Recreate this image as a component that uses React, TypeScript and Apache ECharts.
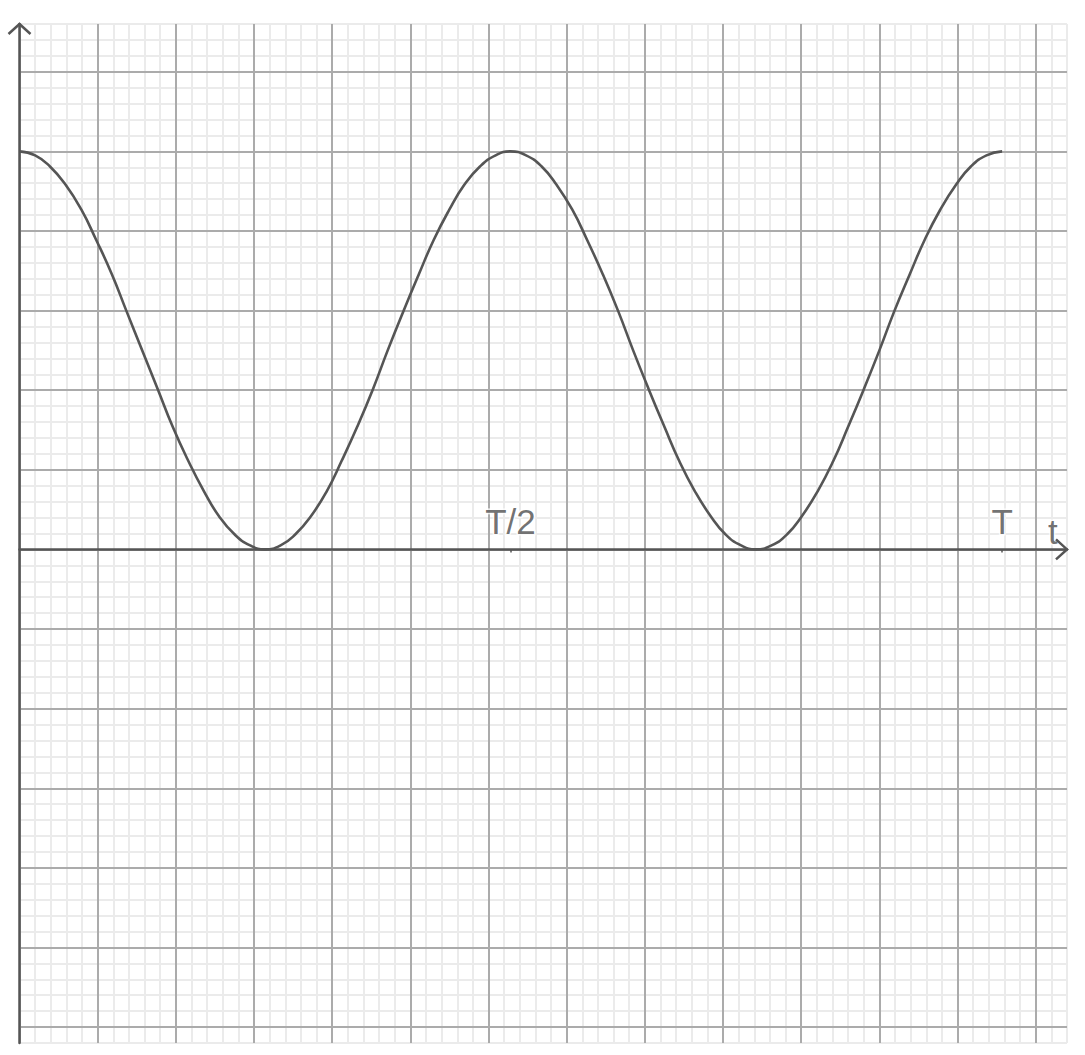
import React, { useRef, useEffect } from 'react';
import * as echarts from 'echarts';

// curve samples (t and y in major grid units)
const tValues = [
  0, 0.2, 0.39, 0.59, 0.79, 0.98, 1.18, 1.37, 1.57, 1.77, 1.96, 2.16, 2.36, 2.55, 2.75, 2.95, 3.14,
  3.34, 3.53, 3.73, 3.93, 4.12, 4.32, 4.52, 4.71, 4.91, 5.11, 5.3, 5.5, 5.69, 5.89, 6.09, 6.28,
  6.48, 6.68, 6.87, 7.07, 7.26, 7.46, 7.66, 7.85, 8.05, 8.25, 8.44, 8.64, 8.84, 9.03, 9.23, 9.42,
  9.62, 9.82, 10.01, 10.21, 10.41, 10.6, 10.8, 11.0, 11.19, 11.39, 11.58, 11.78, 11.98, 12.17, 12.37, 12.57,
];
const yValues = [
  5, 4.95, 4.81, 4.58, 4.27, 3.89, 3.46, 2.99, 2.5, 2.01, 1.54, 1.11, 0.73, 0.42, 0.19, 0.05, 0,
  0.05, 0.19, 0.42, 0.73, 1.11, 1.54, 2.01, 2.5, 2.99, 3.46, 3.89, 4.27, 4.58, 4.81, 4.95, 5,
  4.95, 4.81, 4.58, 4.27, 3.89, 3.46, 2.99, 2.5, 2.01, 1.54, 1.11, 0.73, 0.42, 0.19, 0.05, 0,
  0.05, 0.19, 0.42, 0.73, 1.11, 1.54, 2.01, 2.5, 2.99, 3.46, 3.89, 4.27, 4.58, 4.81, 4.95, 5,
];

// labels on the t axis
const tickNames = ['T/2', 'T', 't'];
const tickPositions = [6.28, 12.57, 13.22];
const markedTicks = [6.28, 12.57];

// paper extent
const xMin = 0;
const xMax = 13.4;
const yMin = -6.2;
const yMax = 6.6;
const minorStep = 0.2;

const INK = '#555555';
const MAJOR = '#ababab';
const MINOR = '#ebebeb';
const NONE = 'rgba(0,0,0,0)';

const hidden = {
  axisLine: { show: false },
  axisTick: { show: false },
  axisLabel: { show: false },
};

const App: React.FC = () => {
  const chartRef = useRef<HTMLDivElement>(null);

  useEffect(() => {
    if (!chartRef.current) return;
    const chart = echarts.init(chartRef.current, undefined, { renderer: 'svg' });

    const xBase = { type: 'value' as const, min: xMin, max: xMax, interval: minorStep };
    const yBase = { type: 'value' as const, min: yMin, max: yMax, interval: minorStep };

    const option: echarts.EChartsOption = {
      animation: false,
      backgroundColor: '#fff',
      grid: { left: 19.5, right: 18, top: 24, bottom: 12, containLabel: false },
      xAxis: [
        { ...xBase, ...hidden, z: 0, splitLine: { show: true, lineStyle: { color: MINOR, width: 2 } } },
        {
          ...xBase, ...hidden, z: 1,
          splitLine: { show: true, lineStyle: { color: [MAJOR, NONE, NONE, NONE, NONE], width: 2 } },
        },
        {
          ...xBase, z: 3,
          splitLine: { show: false },
          axisLabel: { show: false },
          axisLine: { show: true, onZero: true, lineStyle: { color: INK, width: 2.5 } },
          axisTick: {
            show: true, inside: true, length: 3, customValues: markedTicks,
            lineStyle: { color: INK, width: 1.5 },
          } as any,
        },
      ],
      yAxis: [
        { ...yBase, ...hidden, z: 0, splitLine: { show: true, lineStyle: { color: MINOR, width: 2 } } },
        {
          ...yBase, ...hidden, z: 1,
          splitLine: { show: true, lineStyle: { color: [NONE, MAJOR, NONE, NONE, NONE], width: 2 } },
        },
        {
          ...yBase, ...hidden, z: 3,
          splitLine: { show: false },
          axisLine: { show: true, onZero: true, lineStyle: { color: INK, width: 2.5 } },
        },
      ],
      series: [
        {
          type: 'line',
          xAxisIndex: 2,
          yAxisIndex: 2,
          data: tValues.map((t, i) => [t, yValues[i]]),
          smooth: true,
          showSymbol: false,
          symbol: 'none',
          lineStyle: { color: INK, width: 2.6 },
          z: 4,
        },
        {
          type: 'scatter',
          xAxisIndex: 2,
          yAxisIndex: 2,
          symbolSize: 0,
          z: 5,
          data: tickNames.map((name, i) =>
            name === 't'
              ? { name, value: [tickPositions[i], 0], label: { distance: 0 } }
              : { name, value: [tickPositions[i], 0] },
          ),
          label: {
            show: true,
            position: 'top',
            distance: 10,
            formatter: '{b}',
            fontFamily: 'Liberation Sans, Arial, sans-serif',
            fontSize: 35,
            color: '#4d4d4d',
            textBorderColor: '#fff',
            textBorderWidth: 3,
          },
        },
      ],
    };

    chart.setOption(option);

    // open arrow heads at the ends of the two axes
    const origin = chart.convertToPixel({ seriesIndex: 0 }, [0, 0]) as number[];
    const xEnd = chart.convertToPixel({ seriesIndex: 0 }, [xMax, 0]) as number[];
    const yEnd = chart.convertToPixel({ seriesIndex: 0 }, [0, yMax]) as number[];
    const arrowStyle = { stroke: INK, lineWidth: 2.5, fill: 'none' };
    chart.setOption({
      graphic: [
        {
          type: 'polyline',
          z: 10,
          shape: { points: [[origin[0] - 11, yEnd[1] + 10], [origin[0], yEnd[1]], [origin[0] + 11, yEnd[1] + 10]] },
          style: arrowStyle,
        },
        {
          type: 'polyline',
          z: 10,
          shape: { points: [[xEnd[0] - 11, origin[1] - 10], [xEnd[0], origin[1]], [xEnd[0] - 11, origin[1] + 10]] },
          style: arrowStyle,
        },
      ],
    });

    return () => {
      chart.dispose();
    };
  }, []);

  return (
    <div
      ref={chartRef}
      style={{ position: 'absolute', left: 0, top: 0, width: '1085px', height: '1055px', background: '#fff' }}
    />
  );
};

export default App;
